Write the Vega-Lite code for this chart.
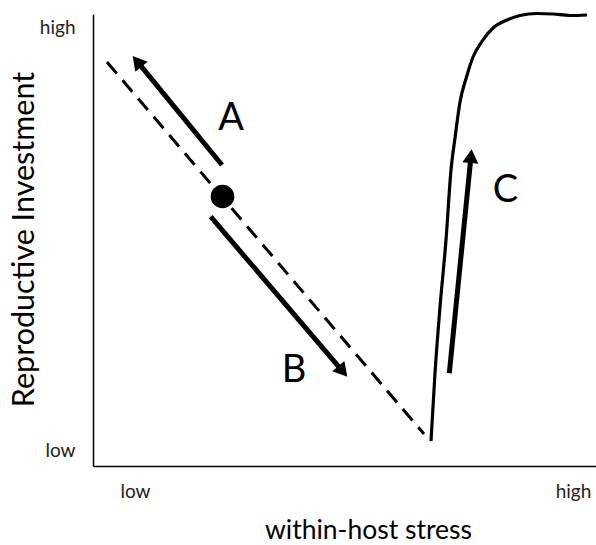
{
  "$schema": "https://vega.github.io/schema/vega-lite/v6.json",
  "width": 503,
  "height": 452,
  "autosize": {"type": "none"},
  "padding": {"left": 93, "top": 14, "right": 0, "bottom": 79},
  "background": "white",
  "config": {
    "view": {"stroke": null},
    "font": "Lato",
    "axis": {
      "grid": false,
      "ticks": false,
      "domainColor": "#000000",
      "domainWidth": 1.5,
      "labelFont": "Lato",
      "labelFontSize": 19,
      "labelColor": "#222222",
      "titleFont": "Lato",
      "titleFontWeight": "normal",
      "titleColor": "#000000"
    }
  },
  "encoding": {
    "x": {
      "field": "x",
      "type": "quantitative",
      "scale": {"domain": [0, 503], "nice": false, "zero": false},
      "axis": {
        "title": "within-host stress",
        "values": [42, 480],
        "labelExpr": "datum.value < 200 ? 'low' : 'high'",
        "labelPadding": 16,
        "titleFontSize": 26.5,
        "titleX": 275,
        "titleY": 72,
        "titleBaseline": "alphabetic",
        "titleAlign": "center"
      }
    },
    "y": {
      "field": "y",
      "type": "quantitative",
      "scale": {"domain": [0, 452], "nice": false, "zero": false},
      "axis": {
        "title": "Reproductive Investment",
        "values": [15.5, 439],
        "labelExpr": "datum.value < 200 ? 'low' : 'high'",
        "labelPadding": 18,
        "titleFontSize": 30.5,
        "titleX": -60,
        "titleY": 225,
        "titleAngle": -90,
        "titleBaseline": "alphabetic",
        "titleAlign": "center"
      }
    }
  },
  "layer": [
    {
      "data": {"values": [{"x": 14, "y": 404}, {"x": 331, "y": 32}]},
      "mark": {"type": "line", "color": "#000000", "strokeWidth": 3, "strokeDash": [15, 9]}
    },
    {
      "data": {"values": [
        {"x": 338, "y": 25}, {"x": 342, "y": 93}, {"x": 347, "y": 159}, {"x": 353, "y": 226},
        {"x": 358, "y": 296}, {"x": 362, "y": 328}, {"x": 367, "y": 364}, {"x": 373.5, "y": 389},
        {"x": 380, "y": 409}, {"x": 388.5, "y": 424}, {"x": 400, "y": 438}, {"x": 414, "y": 446},
        {"x": 427, "y": 450.5}, {"x": 444, "y": 452.5}, {"x": 460, "y": 452}, {"x": 477, "y": 450.5},
        {"x": 494, "y": 451}
      ]},
      "mark": {"type": "line", "color": "#000000", "strokeWidth": 3.2, "interpolate": "monotone"}
    },
    {
      "data": {"values": [
        {"arrow": "A", "x": 129, "y": 301, "x2": 46, "y2": 402.3},
        {"arrow": "B", "x": 117.7, "y": 249.3, "x2": 247.8, "y2": 96.9},
        {"arrow": "C", "x": 356.3, "y": 92.7, "x2": 377.7, "y2": 306.8}
      ]},
      "mark": {"type": "rule", "color": "#000000", "strokeWidth": 5, "strokeCap": "butt"},
      "encoding": {
        "x2": {"field": "x2"},
        "y2": {"field": "y2"}
      }
    },
    {
      "data": {"values": [
        {"arrow": "A", "x": 44.1, "y": 404.6, "angle": 320.7},
        {"arrow": "B", "x": 249.8, "y": 94.6, "angle": 139.5},
        {"arrow": "C", "x": 378, "y": 309.8, "angle": 5.5}
      ]},
      "mark": {"type": "point", "shape": "triangle-up", "filled": true, "color": "#000000", "opacity": 1, "size": 256},
      "encoding": {
        "angle": {"field": "angle", "type": "quantitative", "scale": null}
      }
    },
    {
      "data": {"values": [{"x": 129.5, "y": 269.5}]},
      "mark": {"type": "point", "shape": "circle", "filled": true, "color": "#000000", "opacity": 1, "size": 560}
    },
    {
      "data": {"values": [
        {"label": "A", "x": 138, "y": 336},
        {"label": "B", "x": 201, "y": 84},
        {"label": "C", "x": 412.5, "y": 264}
      ]},
      "mark": {"type": "text", "font": "Lato", "fontSize": 38, "color": "#000000", "align": "center", "baseline": "alphabetic"},
      "encoding": {
        "text": {"field": "label"}
      }
    }
  ]
}
